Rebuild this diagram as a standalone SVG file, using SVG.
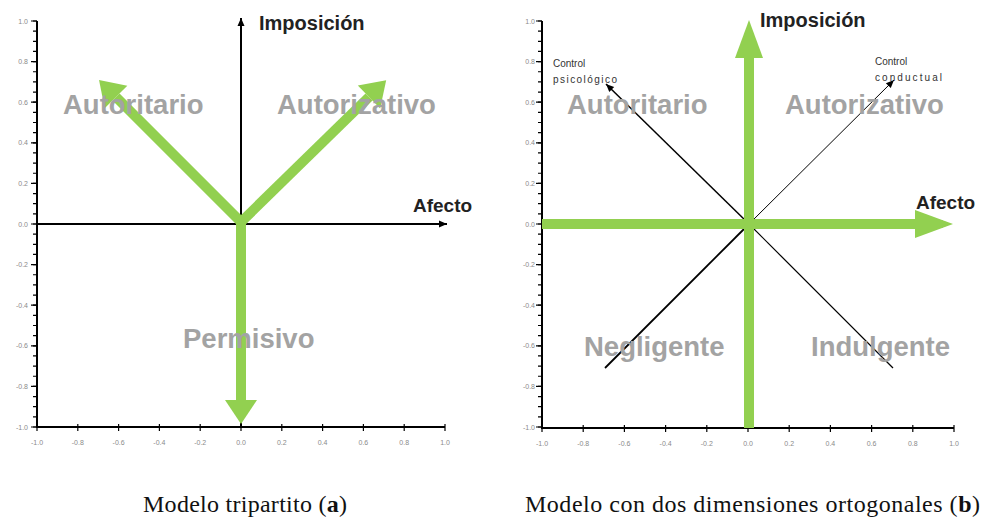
<svg xmlns="http://www.w3.org/2000/svg" width="981" height="518" viewBox="0 0 981 518">
<style>
.ax{stroke:#000;stroke-width:2;fill:none}
.tk{stroke:#000;fill:none}
.tl{font-family:"Liberation Sans",Arial,sans-serif;font-size:7px;fill:#8a8a8a}
.tly{text-anchor:end}
.tlx{text-anchor:middle}
.big{font-family:"Liberation Sans",Arial,sans-serif;font-weight:bold;font-size:27.5px;fill:#a3a3a3}
.ttl{font-family:"Liberation Sans",Arial,sans-serif;font-weight:bold;fill:#222}
.sm{font-family:"Liberation Sans",Arial,sans-serif;font-size:10px;fill:#333}
.cap{font-family:"Liberation Serif","Times New Roman",serif;font-size:24px;fill:#111}
.g1{stroke:#92d050;stroke-width:10;fill:none;marker-end:url(#gh1)}
.g2{stroke:#92d050;stroke-width:10;fill:none;marker-end:url(#gh2)}
.bl{stroke:#000;fill:none}
</style>
<defs>
<marker id="gh1" markerUnits="userSpaceOnUse" orient="auto" refX="0" refY="0" markerWidth="40" markerHeight="40" overflow="visible"><path d="M0,-16 L24,0 L0,16 z" fill="#92d050"/></marker>
<marker id="gh2" markerUnits="userSpaceOnUse" orient="auto" refX="0" refY="0" markerWidth="40" markerHeight="40" overflow="visible"><path d="M0,-14 L38,0 L0,14 z" fill="#92d050"/></marker>
<marker id="bh" markerUnits="userSpaceOnUse" orient="auto" refX="8" refY="0" markerWidth="10" markerHeight="10" overflow="visible"><path d="M0,-3.5 L8,0 L0,3.5 z" fill="#000"/></marker>
</defs>
<rect width="981" height="518" fill="#fff"/>

<g id="panel-a">
  <g id="a-frame">
    <line class="ax" x1="37" y1="21" x2="37" y2="428"/>
    <line class="ax" x1="36" y1="427" x2="445" y2="427"/>
    <line class="tk" x1="35" y1="20.4" x2="35" y2="428" stroke-width="4" stroke-dasharray="1.2 8.95"/>
    <line class="tk" x1="34" y1="20.4" x2="34" y2="428" stroke-width="6" stroke-dasharray="1.2 39.4"/>
    <line class="tk" x1="36.4" y1="427.5" x2="446" y2="427.5" stroke-width="7" stroke-dasharray="1.2 39.6"/>
  </g>
  <g id="a-ylabels" class="tl tly">
    <text x="28" y="23.5">1.0</text><text x="28" y="64">0.8</text><text x="28" y="104.5">0.6</text><text x="28" y="145">0.4</text><text x="28" y="186">0.2</text><text x="28" y="226.5">0.0</text><text x="28" y="267">-0.2</text><text x="28" y="307.5">-0.4</text><text x="28" y="348">-0.6</text><text x="28" y="389">-0.8</text><text x="28" y="429.5">-1.0</text>
  </g>
  <g id="a-xlabels" class="tl tlx">
    <text x="37" y="445">-1.0</text><text x="77.8" y="445">-0.8</text><text x="118.6" y="445">-0.6</text><text x="159.4" y="445">-0.4</text><text x="200.2" y="445">-0.2</text><text x="241" y="445">0.0</text><text x="281.8" y="445">0.2</text><text x="322.6" y="445">0.4</text><text x="363.4" y="445">0.6</text><text x="404.2" y="445">0.8</text><text x="445" y="445">1.0</text>
  </g>
  <g id="a-axes">
    <line class="bl" x1="37" y1="224" x2="447" y2="224" stroke-width="2" marker-end="url(#bh)"/>
    <line class="bl" x1="241" y1="427" x2="241" y2="18" stroke-width="2" marker-end="url(#bh)"/>
  </g>
  <g id="a-green">
    <line class="g1" x1="241" y1="219" x2="241" y2="400"/>
    <line class="g1" x1="243" y1="224" x2="116" y2="97"/>
    <line class="g1" x1="239" y1="224" x2="369" y2="97"/>
  </g>
  <g id="a-imposicion"><text class="ttl" x="259" y="30" font-size="20">Imposición</text></g>
  <g id="a-afecto"><text class="ttl" x="413" y="212" font-size="19">Afecto</text></g>
  <g id="a-autoritario"><text class="big" x="63" y="114">Autoritario</text></g>
  <g id="a-autorizativo"><text class="big" x="277" y="114">Autorizativo</text></g>
  <g id="a-permisivo"><text class="big" x="183" y="348">Permisivo</text></g>
  <g id="a-caption"><text class="cap" x="143" y="512" textLength="204" lengthAdjust="spacing">Modelo tripartito (<tspan font-weight="bold">a</tspan>)</text></g>
</g>

<g id="panel-b">
  <g id="b-frame">
    <line class="ax" x1="542" y1="21" x2="542" y2="429"/>
    <line class="ax" x1="541" y1="428" x2="954" y2="428"/>
    <line class="tk" x1="540" y1="20.4" x2="540" y2="429" stroke-width="4" stroke-dasharray="1.2 8.95"/>
    <line class="tk" x1="539" y1="20.4" x2="539" y2="429" stroke-width="6" stroke-dasharray="1.2 39.4"/>
    <line class="tk" x1="541.4" y1="428.5" x2="955" y2="428.5" stroke-width="7" stroke-dasharray="1.2 40"/>
  </g>
  <g id="b-ylabels" class="tl tly">
    <text x="535" y="23.5">1.0</text><text x="535" y="64">0.8</text><text x="535" y="104.5">0.6</text><text x="535" y="145">0.4</text><text x="535" y="186">0.2</text><text x="535" y="226.5">0.0</text><text x="535" y="267">-0.2</text><text x="535" y="307.5">-0.4</text><text x="535" y="348">-0.6</text><text x="535" y="389">-0.8</text><text x="535" y="429.5">-1.0</text>
  </g>
  <g id="b-xlabels" class="tl tlx">
    <text x="542" y="446">-1.0</text><text x="583.2" y="446">-0.8</text><text x="624.4" y="446">-0.6</text><text x="665.6" y="446">-0.4</text><text x="706.8" y="446">-0.2</text><text x="748" y="446">0.0</text><text x="789.2" y="446">0.2</text><text x="830.4" y="446">0.4</text><text x="871.6" y="446">0.6</text><text x="912.8" y="446">0.8</text><text x="954" y="446">1.0</text>
  </g>
  <g id="b-diagonals">
    <line class="bl" x1="749" y1="224" x2="606" y2="84" stroke-width="1.5" marker-end="url(#bh)"/>
    <line class="bl" x1="749" y1="224" x2="894" y2="80" stroke-width="1" marker-end="url(#bh)"/>
    <line class="bl" x1="749" y1="224" x2="605" y2="368" stroke-width="1.8"/>
    <line class="bl" x1="749" y1="224" x2="893" y2="368" stroke-width="1.2"/>
  </g>
  <g id="b-axes">
    <line class="bl" x1="542" y1="224" x2="950" y2="224" stroke-width="2" marker-end="url(#bh)"/>
  </g>
  <g id="b-green">
    <line class="g2" x1="749" y1="428" x2="749" y2="58"/>
    <line class="g2" x1="542" y1="224" x2="915" y2="224"/>
  </g>
  <g id="b-imposicion"><text class="ttl" x="760" y="27" font-size="20">Imposición</text></g>
  <g id="b-afecto"><text class="ttl" x="916" y="209" font-size="19">Afecto</text></g>
  <g id="b-control-psico"><text class="sm" x="553" y="67">Control</text><text class="sm" x="553" y="83" textLength="64" lengthAdjust="spacing">psicológico</text></g>
  <g id="b-control-cond"><text class="sm" x="875" y="65">Control</text><text class="sm" x="875" y="81" textLength="67" lengthAdjust="spacing">conductual</text></g>
  <g id="b-autoritario"><text class="big" x="567" y="114">Autoritario</text></g>
  <g id="b-autorizativo"><text class="big" x="785" y="114">Autorizativo</text></g>
  <g id="b-negligente"><text class="big" x="584" y="356">Negligente</text></g>
  <g id="b-indulgente"><text class="big" x="811" y="356">Indulgente</text></g>
  <g id="b-caption"><text class="cap" x="525" y="512" textLength="455" lengthAdjust="spacing">Modelo con dos dimensiones ortogonales (<tspan font-weight="bold">b</tspan>)</text></g>
</g>
</svg>
